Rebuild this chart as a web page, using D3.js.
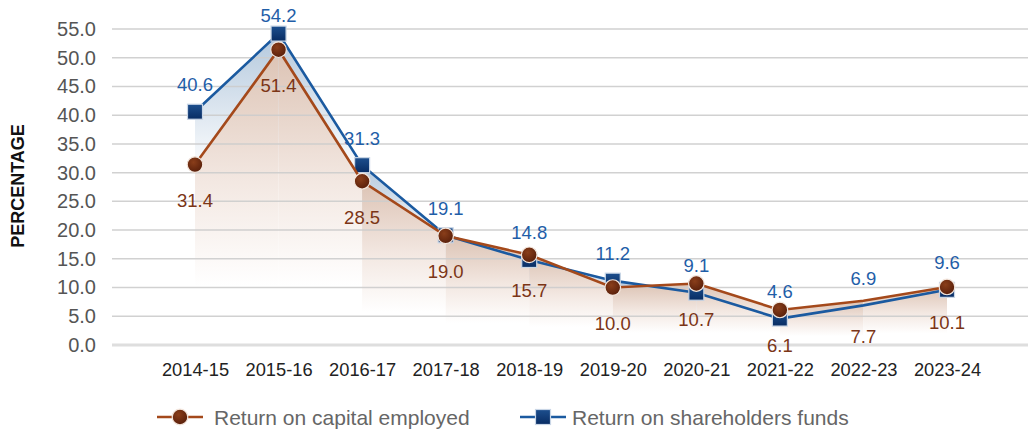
<!DOCTYPE html>
<html><head><meta charset="utf-8">
<script src="https://cdn.jsdelivr.net/npm/d3@7"></script>
<style>body{margin:0;background:#fff}svg{display:block}text{font-family:"Liberation Sans",Arial,sans-serif}</style>
</head><body><svg id="c" width="1028" height="433"></svg>
<script>
const categories = ["2014-15","2015-16","2016-17","2017-18","2018-19","2019-20","2020-21","2021-22","2022-23","2023-24"];
const capitalEmployed = [31.4,51.4,28.5,19.0,15.7,10.0,10.7,6.1,7.7,10.1];
const shareholdersFunds = [40.6,54.2,31.3,19.1,14.8,11.2,9.1,4.6,6.9,9.6];
const yTicks = [0,5,10,15,20,25,30,35,40,45,50,55];
const noMarker = ["2022-23"];
const seriesNames = ["Return on capital employed","Return on shareholders funds"];

const FF = '"Liberation Sans",Arial,sans-serif';
const svg = d3.select("#c");
const x = d3.scalePoint().domain(categories).range([195, 947]);
const y = d3.scaleLinear().domain([0, 55]).range([345, 29]);

const defs = svg.append("defs");
function grad(id, stops) {
  const g = defs.append("linearGradient").attr("id", id).attr("x1", 0).attr("y1", 0).attr("x2", 0).attr("y2", 1);
  stops.forEach(s => g.append("stop").attr("offset", s[0]).attr("stop-color", s[1]).attr("stop-opacity", s[2]));
}
grad("gBlue", [[0, "#b3c8dd", 1], [0.45, "#ffffff", 1], [1, "#ffffff", 0]]);
grad("gBrown", [[0, "#dcc3b4", 1], [0.45, "#f3e8e2", 1], [0.8, "#ffffff", 1], [1, "#ffffff", 0]]);
const rg = defs.append("radialGradient").attr("id", "mBrown").attr("cx", "40%").attr("cy", "35%").attr("r", "65%");
rg.append("stop").attr("offset", 0).attr("stop-color", "#8a3e1a");
rg.append("stop").attr("offset", 1).attr("stop-color", "#5a200b");
const lg = defs.append("linearGradient").attr("id", "mBlue").attr("x1", 0).attr("y1", 0).attr("x2", 0).attr("y2", 1);
lg.append("stop").attr("offset", 0).attr("stop-color", "#1d4f8e");
lg.append("stop").attr("offset", 1).attr("stop-color", "#082c63");

function segAreas(vals, fill) {
  const g = svg.append("g");
  const area = d3.area().x(d => x(d.c)).y0(y(0)).y1(d => y(d.v));
  for (let i = 0; i < vals.length - 1; i++) {
    const seg = [{c: categories[i], v: vals[i]}, {c: categories[i+1], v: vals[i+1]}];
    g.append("path").attr("d", area(seg)).attr("fill", `url(#${fill})`);
  }
}
segAreas(shareholdersFunds, "gBlue");
segAreas(capitalEmployed, "gBrown");

// grid
const grid = svg.append("g");
yTicks.forEach(t => {
  grid.append("line").attr("x1", 112).attr("x2", 1028).attr("y1", y(t)).attr("y2", y(t))
    .attr("stroke", t === 0 ? "#dedede" : "#cdcdcd").attr("stroke-width", t === 0 ? 3 : 1.5).attr("opacity", t === 0 ? 1 : 0.9);
});
const yAxis = d3.axisLeft(y).tickValues(yTicks).tickFormat(d3.format(".1f")).tickSize(0).tickPadding(0);
const ya = svg.append("g").attr("transform", "translate(96,0)").call(yAxis);
ya.select(".domain").remove();
ya.selectAll("text").attr("font-size", 20).attr("fill", "#555").attr("font-family", FF);

const xAxis = d3.axisBottom(x).tickSize(0).tickPadding(0);
const xa = svg.append("g").attr("transform", "translate(0,363)").call(xAxis);
xa.select(".domain").remove();
xa.selectAll("text").attr("font-size", 18.3).attr("fill", "#222").attr("font-family", FF);

svg.append("text").attr("transform", "translate(24,186) rotate(-90)").attr("text-anchor", "middle")
  .attr("font-size", 18).attr("font-weight", "bold").attr("fill", "#111").text("PERCENTAGE");

const line = d3.line().x((d, i) => x(categories[i])).y(d => y(d));
// blue
svg.append("path").attr("d", line(shareholdersFunds)).attr("fill", "none").attr("stroke", "#1b5aa0").attr("stroke-width", 2.6);
svg.append("g").selectAll("rect").data(shareholdersFunds.map((v, i) => ({v, c: categories[i]})).filter(d => !noMarker.includes(d.c)))
  .join("rect").attr("x", d => x(d.c) - 7.5).attr("y", d => y(d.v) - 7.5).attr("width", 15).attr("height", 15)
  .attr("fill", "url(#mBlue)").attr("stroke", "#c9d6e6").attr("stroke-width", 1.2);
// brown
svg.append("path").attr("d", line(capitalEmployed)).attr("fill", "none").attr("stroke", "#a4491b").attr("stroke-width", 2.6);
svg.append("g").selectAll("circle").data(capitalEmployed.map((v, i) => ({v, c: categories[i]})).filter(d => !noMarker.includes(d.c)))
  .join("circle").attr("cx", d => x(d.c)).attr("cy", d => y(d.v)).attr("r", 7.8)
  .attr("fill", "url(#mBrown)").attr("stroke", "#f3e6dd").attr("stroke-width", 1.2);

// labels
svg.append("g").selectAll("text").data(shareholdersFunds.map((v, i) => ({v, c: categories[i]})))
  .join("text").attr("x", d => x(d.c)).attr("y", d => Math.max(15, y(d.v) - 27) + 6.5).attr("text-anchor", "middle")
  .attr("font-size", 18.5).attr("fill", "#1f5ea8").text(d => d.v.toFixed(1));
svg.append("g").selectAll("text").data(capitalEmployed.map((v, i) => ({v, c: categories[i]})))
  .join("text").attr("x", d => x(d.c)).attr("y", d => y(d.v) + 36 + 6.5).attr("text-anchor", "middle")
  .attr("font-size", 18.5).attr("fill", "#7b3516").text(d => d.v.toFixed(1));

// legend
const lgd = svg.append("g");
lgd.append("line").attr("x1", 157).attr("x2", 203).attr("y1", 417).attr("y2", 417).attr("stroke", "#a4491b").attr("stroke-width", 2.6);
lgd.append("circle").attr("cx", 180).attr("cy", 417).attr("r", 7.8).attr("fill", "url(#mBrown)").attr("stroke", "#f3e6dd").attr("stroke-width", 1.2);
lgd.append("text").attr("x", 214).attr("y", 424.5).attr("font-size", 21).attr("fill", "#666").text(seriesNames[0]);
lgd.append("line").attr("x1", 520).attr("x2", 566).attr("y1", 417).attr("y2", 417).attr("stroke", "#1b5aa0").attr("stroke-width", 2.6);
lgd.append("rect").attr("x", 535.5).attr("y", 409.5).attr("width", 15).attr("height", 15).attr("fill", "url(#mBlue)").attr("stroke", "#c9d6e6").attr("stroke-width", 1.2);
lgd.append("text").attr("x", 572).attr("y", 424.5).attr("font-size", 21).attr("fill", "#666").text(seriesNames[1]);
</script></body></html>
